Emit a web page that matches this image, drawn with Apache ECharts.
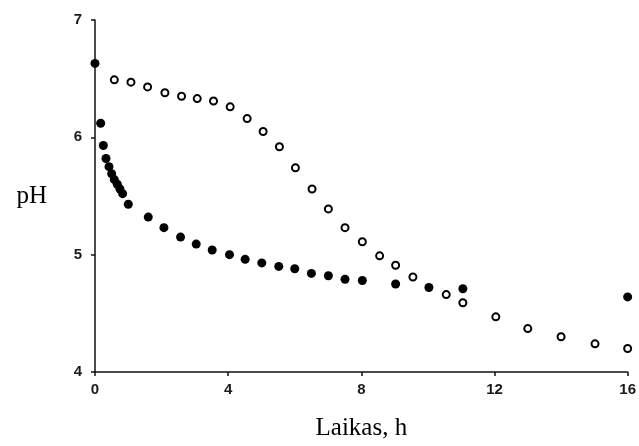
<!DOCTYPE html>
<html>
<head>
<meta charset="utf-8">
<script src="https://cdn.jsdelivr.net/npm/echarts@6/dist/echarts.min.js"></script>
<style>
  html, body { margin: 0; padding: 0; background: #fff; }
  #chart { width: 639px; height: 446px; }
</style>
</head>
<body>
<div id="chart"></div>
<script>
// Time axis (hours) and pH readings for the two runs
var filledTime = [0, 0.17, 0.25, 0.33, 0.42, 0.5, 0.58, 0.67, 0.75, 0.83, 1.0, 1.6, 2.07, 2.57, 3.04, 3.52, 4.04, 4.51, 5.01, 5.52, 6.0, 6.5, 7.01, 7.51, 8.03, 9.03, 10.03, 11.05, 16.0];
var filledPH   = [6.63, 6.12, 5.93, 5.82, 5.75, 5.69, 5.64, 5.60, 5.56, 5.52, 5.43, 5.32, 5.23, 5.15, 5.09, 5.04, 5.00, 4.96, 4.93, 4.90, 4.88, 4.84, 4.82, 4.79, 4.78, 4.75, 4.72, 4.71, 4.64];

var openTime = [0.58, 1.08, 1.58, 2.1, 2.6, 3.07, 3.56, 4.06, 4.57, 5.05, 5.54, 6.02, 6.52, 7.01, 7.51, 8.03, 8.55, 9.03, 9.55, 10.55, 11.05, 12.04, 13.0, 14.0, 15.02, 16.0];
var openPH   = [6.49, 6.47, 6.43, 6.38, 6.35, 6.33, 6.31, 6.26, 6.16, 6.05, 5.92, 5.74, 5.56, 5.39, 5.23, 5.11, 4.99, 4.91, 4.81, 4.66, 4.59, 4.47, 4.37, 4.30, 4.24, 4.20];

var xTicks = [0, 4, 8, 12, 16];
var yTicks = [4, 5, 6, 7];

function pairs(xs, ys) {
  return xs.map(function (x, i) { return [x, ys[i]]; });
}

var tickFont = { fontFamily: 'Liberation Sans', fontWeight: 'bold', fontSize: 15, color: '#1a1a1a' };
var nameFont = { fontFamily: 'Liberation Serif', fontSize: 25, color: '#000' };

var chart = echarts.init(document.getElementById('chart'), null, { renderer: 'canvas' });
chart.setOption({
  animation: false,
  backgroundColor: '#fff',
  grid: { left: 95, right: 9, top: 20, bottom: 74, containLabel: false },
  xAxis: {
    type: 'value',
    min: xTicks[0], max: xTicks[xTicks.length - 1], interval: 4,
    name: 'Laikas, h',
    nameLocation: 'middle',
    nameGap: 44,
    nameTextStyle: nameFont,
    axisLine: { lineStyle: { color: '#111', width: 1.5 } },
    axisTick: { length: 4, lineStyle: { color: '#111', width: 1.5 } },
    axisLabel: Object.assign({ margin: 10 }, tickFont),
    splitLine: { show: false }
  },
  yAxis: {
    type: 'value',
    min: yTicks[0], max: yTicks[yTicks.length - 1], interval: 1,
    name: 'pH',
    nameLocation: 'middle',
    nameRotate: 0,
    nameGap: 48,
    nameTextStyle: nameFont,
    axisLine: { show: true, lineStyle: { color: '#111', width: 1.5 } },
    axisTick: { show: true, length: 4, lineStyle: { color: '#111', width: 1.5 } },
    axisLabel: Object.assign({ margin: 13 }, tickFont),
    splitLine: { show: false }
  },
  series: [
    {
      type: 'scatter',
      data: pairs(openTime, openPH),
      symbol: 'circle',
      symbolSize: 7,
      itemStyle: { color: '#fff', borderColor: '#000', borderWidth: 2, opacity: 1 }
    },
    {
      type: 'scatter',
      data: pairs(filledTime, filledPH),
      symbol: 'circle',
      symbolSize: 9,
      itemStyle: { color: '#000', opacity: 1 }
    }
  ]
});
</script>
</body>
</html>
